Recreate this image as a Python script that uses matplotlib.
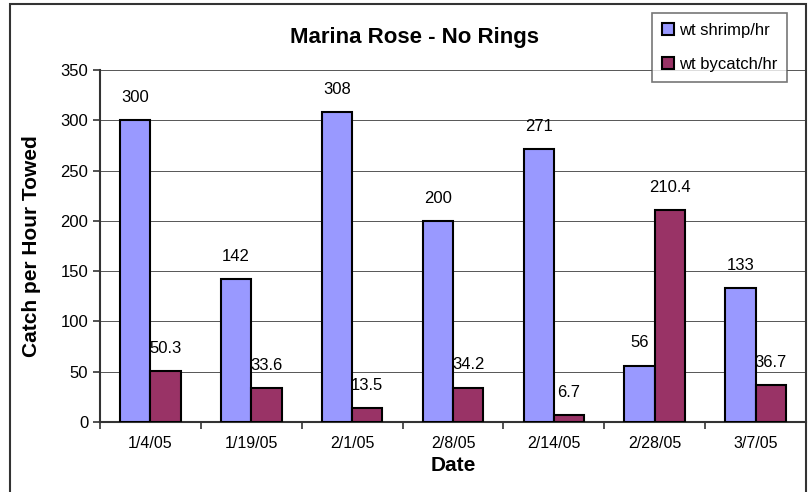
import numpy as np
import matplotlib as mpl
mpl.use('Agg')
import matplotlib.pyplot as plt
from matplotlib.patches import Rectangle

#chart data
dates = ["1/4/05", "1/19/05", "2/1/05", "2/8/05", "2/14/05", "2/28/05", "3/7/05"]
shrimp = [300, 142, 308, 200, 271, 56, 133]
bycatch = [50.3, 33.6, 13.5, 34.2, 6.7, 210.4, 36.7]
shrimp_labels = ["300", "142", "308", "200", "271", "56", "133"]
bycatch_labels = ["50.3", "33.6", "13.5", "34.2", "6.7", "210.4", "36.7"]

plt.rcParams['font.family'] = ['Liberation Sans', 'DejaVu Sans']

fig = plt.figure(figsize=(8.09, 4.92), dpi=100)
W, H = 809.0, 492.0
ax = fig.add_axes([100/W, (H-422)/H, 706/W, 352/H])

#outer chart border
fig.patches.append(Rectangle((10/W, -0.05), 796/W, (H-4)/H + 0.05,
                             transform=fig.transFigure, fill=False,
                             edgecolor='#333333', lw=1.5))

x = np.arange(len(dates))
w = 0.3
b1 = ax.bar(x - w/2, shrimp, w, color='#9999FF', edgecolor='black', lw=1.5,
            label='wt shrimp/hr', zorder=3)
b2 = ax.bar(x + w/2, bycatch, w, color='#993366', edgecolor='black', lw=1.5,
            label='wt bycatch/hr', zorder=3)

for xi, v, s in zip(x - w/2, shrimp, shrimp_labels):
    ax.annotate(s, (xi, v), xytext=(0, 11), textcoords='offset points',
                ha='center', va='bottom', fontsize=12)
for xi, v, s in zip(x + w/2, bycatch, bycatch_labels):
    ax.annotate(s, (xi, v), xytext=(0, 11), textcoords='offset points',
                ha='center', va='bottom', fontsize=12)

ax.set_xlim(-0.5, len(dates) - 0.5)
ax.set_ylim(0, 350)
ax.set_yticks(range(0, 351, 50))
ax.set_xticks(x)
ax.set_xticklabels(dates, fontsize=11.5)
ax.set_xticks(np.arange(-0.5, len(dates)), minor=True)
ax.tick_params(axis='x', which='major', length=0, pad=10)
ax.tick_params(axis='x', which='minor', length=5, direction='out', width=1.2, color='#333333')
ax.tick_params(axis='y', length=5, direction='out', width=1.2, color='#333333', labelsize=12)
ax.yaxis.grid(True, color='#555555', lw=0.7, zorder=0)

for side in ['top', 'right']:
    ax.spines[side].set_visible(False)
ax.spines['left'].set_color('#333333')
ax.spines['left'].set_linewidth(1.5)
ax.spines['bottom'].set_color('#333333')
ax.spines['bottom'].set_linewidth(1.5)

ax.set_xlabel("Date", fontsize=15, fontweight='bold', labelpad=4)
ax.set_ylabel("Catch per Hour Towed", fontsize=15, fontweight='bold', labelpad=14)
fig.text(415/W, 1 - 37/H, "Marina Rose - No Rings", ha='center', va='center',
         fontsize=16, fontweight='bold')

leg = fig.legend(handles=[b1, b2], loc='upper left',
                 bbox_to_anchor=(652/W, 1 - 13/H), frameon=True, fancybox=False,
                 edgecolor='#555555', fontsize=12, handlelength=0.7,
                 handleheight=0.7, handletextpad=0.3, labelspacing=1.15,
                 borderpad=0.6, borderaxespad=0)
leg.get_frame().set_linewidth(1.2)

plt.savefig("out.png", dpi=100)
